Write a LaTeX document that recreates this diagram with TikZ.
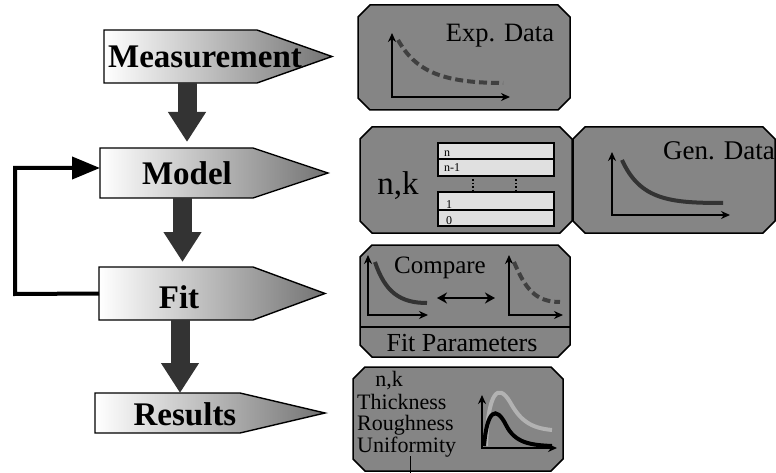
\documentclass[tikz,border=0pt]{standalone}
\usepackage{fontspec}
\setmainfont{Liberation Serif}
\usetikzlibrary{arrows.meta,calc}
\newcommand\mypanel[5]{%
  \node[body,minimum width=#4pt,minimum height=#5pt] (#1) at (#2,#3) {};
  \draw[panelline] ($(#1.north west)+(12,0)$) -- ($(#1.north east)+(-12,0)$) -- ($(#1.north east)+(0,12)$)
    -- ($(#1.south east)+(0,-12)$) -- ($(#1.south east)+(-12,0)$) -- ($(#1.south west)+(12,0)$)
    -- ($(#1.south west)+(0,-12)$) -- ($(#1.north west)+(0,12)$) -- cycle;}
\begin{document}
\begin{tikzpicture}[x=1pt,y=-1pt,
  body/.style={inner sep=0pt,outer sep=0pt},
  ptr/.style={draw=black,line width=1.4pt,left color=white,middle color=black!20,right color=black!55},
  lbl/.style={font=\fontsize{33}{36}\selectfont\bfseries,inner sep=0pt,anchor=base},
  txt/.style={inner sep=0pt,anchor=base},
  panelline/.style={draw=black,line width=1.5pt,fill=black!48},
  darrow/.style={line width=19pt,draw=black!80,-{Triangle[width=36pt,length=30pt]}},
  axes/.style={line width=1.8pt,{Stealth[length=9pt,width=8pt]}-{Stealth[length=9pt,width=8pt]}},
  curve/.style={line width=4pt,draw=black!80},
  dcurve/.style={line width=4pt,draw=black!75,dash pattern=on 8pt off 4pt},
  layer/.style={draw=black,line width=1.2pt,fill=black!12}]
\useasboundingbox (0,0) rectangle (776,473);
\fill[white] (0,0) rectangle (776,473);

% ---- left pointers ----
\node[body,minimum width=153pt,minimum height=53pt] (meas) at (180.5,56.5) {};
\shade[ptr] (meas.north west) -- (meas.north east) -- ($(meas.east)+(75,0)$) -- (meas.south east) -- (meas.south west) -- cycle;
\node[lbl] (measT) at (205,68) {Measurement};

\node[body,minimum width=153pt,minimum height=50pt] (model) at (176.5,173) {};
\shade[ptr] (model.north west) -- (model.north east) -- ($(model.east)+(75,0)$) -- (model.south east) -- (model.south west) -- cycle;
\node[lbl] (modelT) at (187,185) {Model};

\node[body,minimum width=154pt,minimum height=53pt] (fit) at (176,293.5) {};
\shade[ptr] (fit.north west) -- (fit.north east) -- ($(fit.east)+(72,0)$) -- (fit.south east) -- (fit.south west) -- cycle;
\node[lbl] (fitT) at (179,308) {Fit};

\node[body,minimum width=145pt,minimum height=40pt] (res) at (167.5,413) {};
\shade[ptr] (res.north west) -- (res.north east) -- ($(res.east)+(85,0)$) -- (res.south east) -- (res.south west) -- cycle;
\node[lbl] (resT) at (185,425) {Results};

% ---- dark down arrows ----
\coordinate (a1) at ($(meas.south)+(6.5,0)$);
\coordinate (a2) at ($(model.south)+(6,0)$);
\coordinate (a3) at ($(fit.south)+(4,0)$);
\draw[darrow,shorten >=6pt] (a1) -- (a1 |- model.north);
\draw[darrow,shorten >=5pt] (a2) -- (a2 |- fit.north);
\draw[darrow] (a3) -- (a3 |- res.north);

% ---- feedback ----
\coordinate (fb1) at (15,294);
\coordinate (fb2) at (15,168);
\draw[line width=4pt,-{Triangle[width=22pt,length=28pt]}] (fit.west) -- (fb1) -- (fb2) -- ([yshift=5pt]model.west);

% ---- right panels ----
\mypanel{exp}{464}{57.5}{212}{105}
\node[txt,font=\fontsize{26.5}{30}\selectfont] (expT) at (500,42) {Exp. Data};
\draw[axes] (392,33) -- (392,97) -- (510,97);
\draw[dcurve] (398,40) .. controls (415,70) and (440,83) .. (503,83);

\mypanel{nk}{466}{180}{212}{106}
\node[txt,font=\fontsize{33}{36}\selectfont] (nkT) at (398,195) {n,k};
\draw[layer] (438,143) rectangle (554,159);
\draw[layer] (438,159) rectangle (554,176);
\draw[layer] (438,192) rectangle (554,210);
\draw[layer] (438,210) rectangle (554,226);
\draw[line width=1.4pt,dotted] (473,176) -- (473,192);
\draw[line width=1.4pt,dotted] (516,176) -- (516,192);
\node[txt,anchor=base west,font=\fontsize{12}{13}\selectfont] (l1) at (444,157) {n};
\node[txt,anchor=base west,font=\fontsize{12}{13}\selectfont] (l2) at (444,172) {n-1};
\node[txt,anchor=base west,font=\fontsize{12}{13}\selectfont] (l3) at (446,208) {1};
\node[txt,anchor=base west,font=\fontsize{12}{13}\selectfont] (l4) at (446,224) {0};

\mypanel{gen}{674}{180}{202}{106}
\node[txt,font=\fontsize{27}{30}\selectfont] (genT) at (719,160) {Gen. Data};
\draw[axes] (612,152) -- (612,215) -- (730,215);
\draw[curve] (622,160) .. controls (640,200) and (670,203) .. (723,203);

\mypanel{cmp}{465}{301}{210}{112}
\draw[line width=1.3pt] (cmp.west |- 0,327) -- (cmp.east |- 0,327);
\node[txt,font=\fontsize{25}{28}\selectfont] (cmpT) at (440,273) {Compare};
\node[txt,font=\fontsize{26}{28}\selectfont] (fpT) at (462,351) {Fit Parameters};
\draw[axes] (368,255) -- (368,315) -- (428,315);
\draw[curve] (375,262) .. controls (385,292) and (400,303) .. (427,303);
\draw[line width=2.5pt,{Stealth[length=10pt,width=11pt]}-{Stealth[length=10pt,width=11pt]}] (437,298) -- (495,298);
\draw[axes] (509,255) -- (509,315) -- (563,315);
\draw[dcurve] (514,262) .. controls (525,288) and (535,302) .. (560,302);

\mypanel{rbox}{458}{419}{210}{104}
\node[txt,font=\fontsize{22}{24}\selectfont] (rnk) at (389,386) {n,k};
\node[txt,anchor=base west,font=\fontsize{22}{24}\selectfont] (r1) at (357,409) {Thickness};
\node[txt,anchor=base west,font=\fontsize{22}{24}\selectfont] (r2) at (357,430) {Roughness};
\node[txt,anchor=base west,font=\fontsize{22}{24}\selectfont] (r3) at (357,452) {Uniformity};
\draw[line width=0.8pt] (410,456) -- (410,473);
\draw[axes] (482,395) -- (482,448) -- (557,448);
\draw[line width=4pt,draw=black!30] (486,446) .. controls (488,392) and (498,382) .. (510,402) .. controls (520,420) and (530,428) .. (552,430);
\draw[line width=4pt,draw=black] (484,446) .. controls (487,410) and (496,405) .. (506,425) .. controls (515,443) and (530,445) .. (552,446);
\end{tikzpicture}
\end{document}
